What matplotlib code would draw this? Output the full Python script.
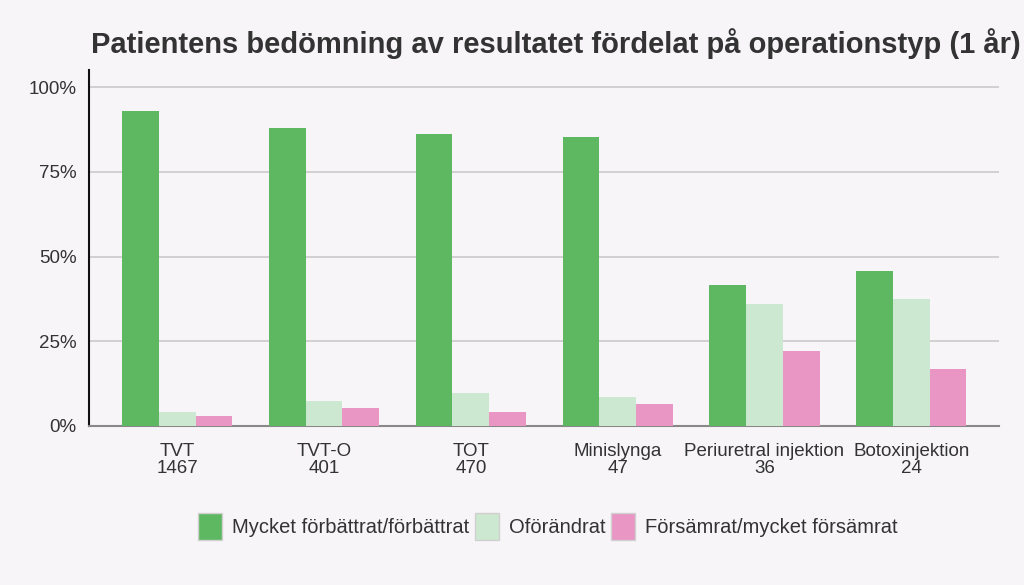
import matplotlib.pyplot as plt
import numpy as np
from matplotlib.ticker import FuncFormatter

plt.rcParams['font.family'] = ['Liberation Sans', 'DejaVu Sans']

kategorier = ['TVT\n1467', 'TVT-O\n401', 'TOT\n470', 'Minislynga\n47',
              'Periuretral injektion\n36', 'Botoxinjektion\n24']
forbattrat = [92.9, 87.9, 86.1, 85.2, 41.7, 45.8]
oforandrat = [4.1, 7.4, 9.8, 8.6, 36.1, 37.5]
forsamrat = [3.0, 5.3, 4.1, 6.5, 22.2, 16.7]
serienamn = ['Mycket förbättrat/förbättrat', 'Oförändrat', 'Försämrat/mycket försämrat']
farger = ['#5eb761', '#cde8d1', '#e996c4']

bg = '#f7f5f8'
fig = plt.figure(figsize=(10.24, 5.85), dpi=100, facecolor=bg)
ax = fig.add_axes([0.087, 0.272, 0.889, 0.608], facecolor=bg)

x = np.arange(len(kategorier))
w = 0.25
for i, (vals, namn, c) in enumerate(zip([forbattrat, oforandrat, forsamrat], serienamn, farger)):
    ax.bar(x + (i - 1) * w, vals, w, color=c, label=namn, zorder=3)

ax.set_xlim(-0.6, 5.6)
ax.set_ylim(0, 105)
ax.set_yticks([0, 25, 50, 75, 100])
ax.yaxis.set_major_formatter(FuncFormatter(lambda v, p: f'{v:.0f}%'))
ax.grid(axis='y', color='#cacaca', linewidth=1.2, zorder=0)
ax.set_xticks(x)
ax.set_xticklabels(kategorier, linespacing=1.05)
ax.tick_params(axis='both', length=0, labelsize=13.5, colors='#333333', pad=9)
ax.tick_params(axis='x', pad=12)

for s in ['top', 'right']:
    ax.spines[s].set_visible(False)
ax.spines['left'].set_color('#111111')
ax.spines['left'].set_linewidth(1.5)
ax.spines['bottom'].set_color('#888888')
ax.spines['bottom'].set_linewidth(1.5)

fig.text(0.089, 0.925, 'Patientens bedömning av resultatet fördelat på operationstyp (1 år)',
         fontsize=21, fontweight='bold', color='#333333', va='center')

leg = fig.legend(loc='center', bbox_to_anchor=(0.535, 0.1), ncol=3, frameon=False,
                 fontsize=14.5, handlelength=1.2, handleheight=1.65, handletextpad=0.5,
                 columnspacing=0.25, labelcolor='#333333')
for h in leg.legend_handles:
    h.set_edgecolor('#d0d0d0')

fig.savefig('out.png', dpi=100, facecolor=bg)
